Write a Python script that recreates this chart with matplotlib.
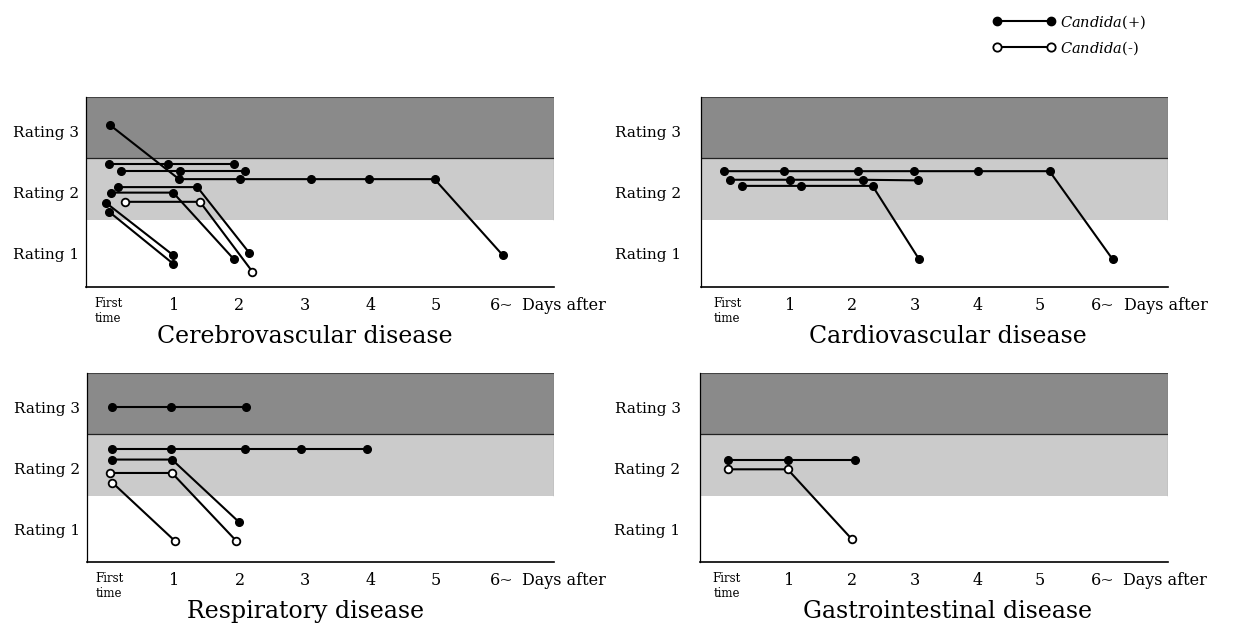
import matplotlib
matplotlib.use("Agg")
import matplotlib.pyplot as plt
import matplotlib.transforms as mtransforms
from matplotlib.lines import Line2D

plt.rcParams['font.family'] = ['DejaVu Serif']
plt.rcParams['mathtext.fontset'] = 'dejavuserif'

rating_labels = ['Rating 1', 'Rating 2', 'Rating 3']
day_labels = ['First\ntime', '1', '2', '3', '4', '5', '6~']

# each line: (days, ratings) -- slight offsets as drawn in the figure
cereb_pos = [
    ([0.03, 1.08, 2.01, 3.10, 3.98, 4.98, 6.02], [3.10, 2.22, 2.22, 2.22, 2.22, 2.22, 0.98]),
    ([0.01, 0.91, 1.92], [2.46, 2.46, 2.46]),
    ([0.19, 1.09, 2.08], [2.36, 2.36, 2.36]),
    ([0.15, 1.36, 2.15], [2.09, 2.09, 1.02]),
    ([0.04, 0.99, 1.92], [2.00, 2.00, 0.91]),
    ([-0.03, 0.99], [1.83, 0.98]),
    ([0.01, 0.99], [1.69, 0.84]),
]
cereb_neg = [
    ([0.26, 1.40, 2.20], [1.85, 1.85, 0.71]),
]

cardio_pos = [
    ([-0.06, 0.90, 2.08, 2.98, 4.00, 5.15, 6.16], [2.35, 2.35, 2.35, 2.35, 2.35, 2.35, 0.91]),
    ([0.04, 1.00, 2.16, 3.05], [2.21, 2.21, 2.21, 2.20]),
    ([0.23, 1.18, 2.32, 3.06], [2.11, 2.11, 2.11, 0.92]),
]
cardio_neg = []

resp_pos = [
    ([0.05, 0.95, 2.09], [3.01, 3.01, 3.01]),
    ([0.04, 0.95, 2.08, 2.94, 3.94], [2.32, 2.32, 2.32, 2.32, 2.32]),
    ([0.05, 0.96, 1.98], [2.14, 2.14, 1.12]),
]
resp_neg = [
    ([0.01, 0.96, 1.94], [1.92, 1.92, 0.81]),
    ([0.05, 1.00], [1.76, 0.81]),
]

gastro_pos = [
    ([0.02, 0.97, 2.05], [2.13, 2.13, 2.13]),
]
gastro_neg = [
    ([0.02, 0.97, 1.99], [1.98, 1.98, 0.84]),
]

titles = ['Cerebrovascular disease', 'Cardiovascular disease',
          'Respiratory disease', 'Gastrointestinal disease']


def draw_panel(ax, pos_lines, neg_lines, title, xlim, ypad, title_x):
    ax.set_xlim(*xlim)
    ax.set_ylim(0.46, 3.56)
    ax.axhspan(2.56, 3.56, facecolor='#8a8a8a', edgecolor='none', zorder=0)
    ax.axhline(2.56, color='#222222', lw=0.9, zorder=1)
    ax.axhspan(1.55, 2.56, facecolor='#cbcbcb', edgecolor='none', zorder=0)
    ax.plot([xlim[1], xlim[1]], [1.55, 3.56], color='#444444', lw=0.8, zorder=1)
    ax.plot([xlim[0], xlim[1]], [3.56, 3.56], color='#444444', lw=0.8, zorder=1)

    for xs, ys in pos_lines:
        ax.plot(xs, ys, '-o', color='black', lw=1.5, ms=5.5,
                mfc='black', mec='black', zorder=3)
    for xs, ys in neg_lines:
        ax.plot(xs, ys, '-o', color='black', lw=1.5, ms=5.5,
                mfc='white', mec='black', mew=1.3, zorder=3)

    for s in ['top', 'right']:
        ax.spines[s].set_visible(False)
    ax.spines['left'].set_linewidth(0.9)
    ax.spines['bottom'].set_linewidth(1.2)

    ax.set_yticks([1, 2, 3])
    ax.set_yticklabels(rating_labels, fontsize=11)
    ax.tick_params(axis='y', length=0, pad=ypad)

    ax.set_xticks(range(7))
    ax.set_xticklabels(day_labels, fontsize=11.5, va='top')
    first = ax.get_xticklabels()[0]
    first.set_fontsize(8.5)
    first.set_transform(first.get_transform() +
                        mtransforms.ScaledTranslation(4 / 100, 0, ax.figure.dpi_scale_trans))
    ax.tick_params(axis='x', length=0, pad=7)
    ax.annotate('Days after', xy=(6, 0), xycoords=('data', 'axes fraction'),
                xytext=(15, -7), textcoords='offset points',
                ha='left', va='top', fontsize=11.5)
    ax.text(title_x, -0.26, title, transform=ax.transAxes,
            ha='center', va='center', fontsize=17)


fig = plt.figure(figsize=(12.46, 6.28), dpi=100)

ax1 = fig.add_axes([0.0690, 0.5430, 0.3760, 0.3025])
ax2 = fig.add_axes([0.5622, 0.5430, 0.3750, 0.3025])
ax3 = fig.add_axes([0.0698, 0.1051, 0.3752, 0.3010])
ax4 = fig.add_axes([0.5618, 0.1051, 0.3754, 0.3010])

left_lim = (-0.34, 6.81)
right_lim = (-0.43, 7.04)

draw_panel(ax1, cereb_pos, cereb_neg, titles[0], left_lim, 5, 0.468)
draw_panel(ax2, cardio_pos, cardio_neg, titles[1], right_lim, 14, 0.53)
draw_panel(ax3, resp_pos, resp_neg, titles[2], left_lim, 5, 0.468)
draw_panel(ax4, gastro_pos, gastro_neg, titles[3], right_lim, 14, 0.53)

handles = [
    Line2D([0], [0], color='black', lw=1.5, marker='o', ms=6, mfc='black', mec='black'),
    Line2D([0], [0], color='black', lw=1.5, marker='o', ms=6, mfc='white', mec='black', mew=1.3),
]
fig.legend(handles, [r'$\it{Candida}$(+)', r'$\it{Candida}$(-)'],
           loc='upper left', bbox_to_anchor=(0.786, 1.0), numpoints=2,
           handlelength=4.3, handletextpad=0.3, labelspacing=0.55,
           frameon=False, fontsize=10.5)

fig.savefig('out.png', dpi=100)
